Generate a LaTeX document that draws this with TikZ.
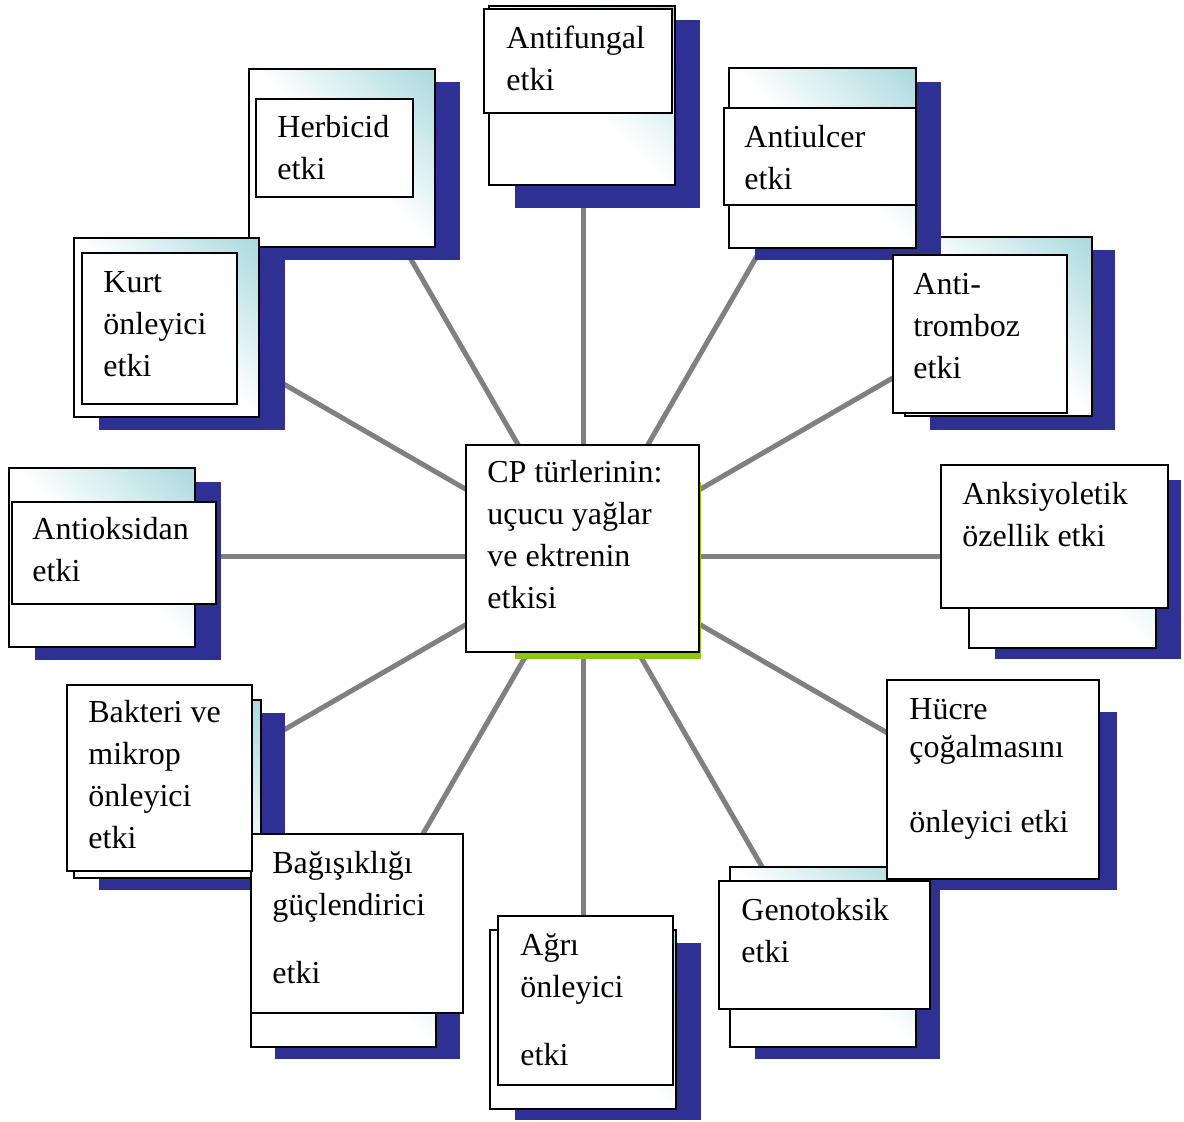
\documentclass[tikz,border=0pt]{standalone}
\usepackage{fontspec}
\setmainfont{Liberation Serif}
\usetikzlibrary{fit}
\definecolor{shadowblue}{RGB}{46,49,146}
\definecolor{cardcyan}{RGB}{170,218,222}
\definecolor{hubgreen}{RGB}{140,198,20}
\definecolor{spokegray}{RGB}{128,128,128}
\pgfdeclareverticalshading{cardshade}{100bp}{color(0bp)=(white); color(50bp)=(white); color(85bp)=(cardcyan); color(100bp)=(cardcyan)}
\newcommand\cardtext[1]{\parbox[t]{240pt}{\raggedright #1}}
\tikzset{
  shadowrect/.style={fill=shadowblue},
  backcard/.style={draw=black, line width=0.8pt, shade, shading=cardshade, shading angle=-45},
  frontbox/.style={draw=black, line width=0.8pt, fill=white, inner sep=0pt},
  txt/.style={anchor=base west, inner sep=0pt, font=\fontsize{16}{21}\selectfont},
  spoke/.style={draw=spokegray, line width=2.5pt},
  hubshadow/.style={fill=hubgreen},
}
\begin{document}
\begin{tikzpicture}[x=0.5pt,y=-0.5pt]
\useasboundingbox (0,0) rectangle (1184,1122);
\fill[white] (0,0) rectangle (1184,1122);

% hub and spoke ends
\coordinate (hubc) at (583,557);
\coordinate (e0) at (1000,557);
\coordinate (e30) at (929,757);
\coordinate (e60) at (783,903);
\coordinate (e90) at (583,1000);
\coordinate (e120) at (383,903);
\coordinate (e150) at (237,757);
\coordinate (e180) at (180,557);
\coordinate (e210) at (237,357);
\coordinate (e240) at (383,211);
\coordinate (e270) at (583,150);
\coordinate (e300) at (783,211);
\coordinate (e330) at (929,357);
\foreach \e in {e0,e30,e60,e90,e120,e150,e180,e210,e240,e270,e300,e330}
  \draw[spoke] (hubc) -- (\e);

% shadows and back cards
% Herbicid
\fill[shadowrect] (274,82) rectangle (460,260);
\draw[backcard] (249,69) rectangle (435,247);
% Kurt
\fill[shadowrect] (99,248) rectangle (285,430);
\draw[backcard] (74,238) rectangle (259,417);
% Antifungal
\fill[shadowrect] (515,20) rectangle (700,208);
\draw[backcard] (489,6) rectangle (675,185);
% Anti-tromboz
\fill[shadowrect] (930,250) rectangle (1115,430);
\draw[backcard] (905,237) rectangle (1092,416);
% Antiulcer
\fill[shadowrect] (755,82) rectangle (941,260);
\draw[backcard] (729,68) rectangle (916,248);
% Anksiyoletik
\fill[shadowrect] (995,480) rectangle (1181,659);
\draw[backcard] (969,470) rectangle (1156,648);
% Hucre
\fill[shadowrect] (930,712) rectangle (1117,890);
% Genotoksik
\fill[shadowrect] (755,882) rectangle (940,1059);
\draw[backcard] (730,867) rectangle (916,1047);
% Agri
\fill[shadowrect] (515,943) rectangle (701,1120);
\draw[backcard] (490,930) rectangle (676,1109);
% Bagisikligi
\fill[shadowrect] (275,880) rectangle (460,1059);
\draw[backcard] (251,867) rectangle (436,1047);
% Bakteri
\fill[shadowrect] (99,713) rectangle (285,890);
\draw[backcard] (74,700) rectangle (261,878);
% Antioksidan
\fill[shadowrect] (35,482) rectangle (221,660);
\draw[backcard] (9,468) rectangle (195,647);

% front boxes
\node[frontbox, fit={(256,99) (413,197)}] (herb) {};
\node[frontbox, fit={(484,9) (672,113)}] (fung) {};
\node[frontbox, fit={(724,108) (916,205)}] (ulcer) {};
\node[frontbox, fit={(893,255) (1067,413)}] (tromb) {};
\node[frontbox, fit={(941,465) (1168,608)}] (anks) {};
\node[frontbox, fit={(887,680) (1099,879)}] (hucre) {};
\node[frontbox, fit={(719,881) (930,1009)}] (geno) {};
\node[frontbox, fit={(498,916) (673,1085)}] (agri) {};
\node[frontbox, fit={(251,834) (463,1013)}] (bagis) {};
\node[frontbox, fit={(67,685) (252,871)}] (bakt) {};
\node[frontbox, fit={(12,502) (216,604)}] (oks) {};
\node[frontbox, fit={(82,253) (237,404)}] (kurt) {};

% texts
\node[txt] (herb-t) at (277,138) {\cardtext{Herbicid\\etki}};
\node[txt] (fung-t) at (506,49) {\cardtext{Antifungal\\etki}};
\node[txt] (ulcer-t) at (744,148) {\cardtext{Antiulcer\\etki}};
\node[txt] (tromb-t) at (913,295) {\cardtext{Anti-\\tromboz\\etki}};
\node[txt] (anks-t) at (962,505) {\cardtext{Anksiyoletik\\özellik etki}};
\node[txt] (hucre-t) at (909,720) {\cardtext{Hücre\\[-2pt]çoğalmasını\\[16.5pt]önleyici etki}};
\node[txt] (geno-t) at (741,920) {\cardtext{Genotoksik\\etki}};
\node[txt] (agri-t) at (520,955) {\cardtext{Ağrı\\önleyici\\[13pt]etki}};
\node[txt] (bagis-t) at (272,873) {\cardtext{Bağışıklığı\\güçlendirici\\[13pt]etki}};
\node[txt] (bakt-t) at (88,723) {\cardtext{Bakteri ve\\mikrop\\önleyici\\etki}};
\node[txt] (oks-t) at (32,540) {\cardtext{Antioksidan\\etki}};
\node[txt] (kurt-t) at (103,293) {\cardtext{Kurt\\önleyici\\etki}};

% center
\fill[hubshadow] (515,482) rectangle (701,659);
\node[frontbox, fit={(466,445) (699,652)}] (hub) {};
\node[txt] (hub-t) at (487,483) {\cardtext{CP türlerinin:\\uçucu yağlar\\ve ektrenin\\etkisi}};
\end{tikzpicture}
\end{document}
